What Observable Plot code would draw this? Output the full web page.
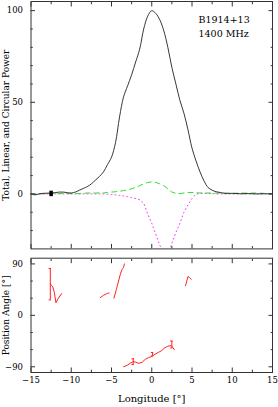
<!DOCTYPE html>
<html><head><meta charset="utf-8">
<script src="https://cdn.jsdelivr.net/npm/d3@7"></script>
<script src="https://cdn.jsdelivr.net/npm/@observablehq/plot@0.6"></script>
<style>
body{margin:0;background:#fff;}
#chart svg{display:block;}
</style></head><body><div id="chart"></div>
<script>
// ---- Data ----
const pulsarName = "B1914+13";
const frequencyLabel = "1400 MHz";
const powerLabel = "Total, Linear, and Circular Power";
const paLabel = "Position Angle [°]";
const xLabel = "Longitude [°]";

const profLon = [-15,-14.5,-14,-13.5,-13,-12.5,-12,-11.5,-11,-10.5,-10,-9.5,-9,-8.5,-8,-7.5,-7,-6.5,-6,-5.5,-5,-4.5,-4,-3.5,-3,-2.5,-2,-1.5,-1,-0.5,0,0.5,1,1.5,2,2.5,3,3.5,4,4.5,5,5.5,6,6.5,7,7.5,8,8.5,9,10,11,12,13,14,15];
const totalI = [0,-0.5,0,0.3,0.4,0.5,0.7,1,1,0.7,0.5,1,2,3,4,5.5,7.5,9.5,12,16,20,28,42,53,59,65,72,79,90,97,100,98.5,95,89,80,69,60,51,44,35,25,18,12,7,3.5,2,1.2,0.8,0.4,0.3,0.1,0.2,0,0.1,0];
const linearL = [0,0,0,0.2,0,0.3,0,0.2,0.3,0.2,0.2,0.3,0.2,0.4,0.5,0.5,0.5,0.6,0.5,0.8,1,1.2,1.5,1.8,2.2,2.8,3.5,4.5,5.5,6.2,6.6,6.3,5.5,4.5,2.8,1,0.3,0.2,0.5,0.8,0.8,0.6,0.5,0.5,0.5,0.4,0.5,0.5,0.3,0.3,0.5,0.4,0.5,0.3,0];
const circularV = [0,0,0,0,0,0,0,0,0,0,0,0,0,0,0,0,0,0,0,-0.2,-0.3,-0.5,-0.8,-1.1,-1.5,-2,-2.5,-3.2,-5,-11,-16,-22,-28,-33,-34,-27,-21,-16,-10,-6,-2.5,0,0.3,0.3,0.3,0.2,0,0,0,0,0,0,0,0,0];

const noiseLon = [-12.5];
const noiseSigma = [1.5];

const paSeg = [1,1,1,1,1,1, 2,2,2,2, 3,3,3,3,3,3,3, 4,4,4,4,4,4,4,4,4,4,4,4,4,4,4,4,4,4, 5,5,5,5,5];
const paLon = [-12.6,-12.3,-12.1,-11.9,-11.6,-11.2, -6.4,-6.0,-5.5,-5.3, -4.7,-4.4,-4.2,-3.9,-3.7,-3.5,-3.4,
  -3.5,-3.0,-2.6,-2.3,-2.0,-1.6,-1.2,-0.8,-0.4,0,0.4,0.8,1.2,1.6,2.0,2.4,2.6,2.8, 4.2,4.35,4.5,4.7,4.9];
const paVal = [55,50,40,22,30,38, 31,35,38.5,39, 30,45,56,72,80,84,90,
  -90,-87,-83,-81,-82,-84,-82,-77,-74,-72,-68,-65,-62,-57,-54,-53,-56,-60, 52,60,68,66,63];

const errLon = [-12.6,-2.3,0.1,2.5];
const errLo = [27,-86,-71,-57];
const errHi = [82,-76,-65,-45];

const xMajor = [-15,-10,-5,0,5,10,15];
const xMinor = [-12.5,-7.5,-2.5,2.5,7.5,12.5];
const powMajor = [0,50,100];
const powMinor = [-20,-10,10,20,30,40,60,70,80,90];
const paMajor = [-90,0,90];
const paMinor = [-60,-30,30,60];

// ---- Tables ----
const profile = profLon.map((x,i)=>({x, I: totalI[i], L: linearL[i], V: circularV[i]}));
const pa = paLon.map((x,i)=>({x, y: paVal[i], seg: paSeg[i]}));
const errs = errLon.map((x,i)=>({x, lo: errLo[i], hi: errHi[i]}));
const noise = noiseLon.map((x,i)=>({x, s: noiseSigma[i]}));

const font = "'DejaVu Serif', serif";
const frameColor = "#333";
const MAJ = 4.5, MIN = 2.3;
const LABEL_SIZE = 9.5, YLABEL_SIZE = 9, XLABEL_SIZE = 10, TICK_SIZE = 8.5;

function boxTicks(xMaj, xMin, yMaj, yMin) {
  const m = [];
  for (const [vals, s] of [[xMaj, MAJ], [xMin, MIN]]) {
    m.push(Plot.axisX({anchor:"bottom", ticks: vals, tickSize: s, dy: -s, text: null, label: null, stroke: frameColor}));
    m.push(Plot.axisX({anchor:"top", ticks: vals, tickSize: s, dy: s, text: null, label: null, stroke: frameColor}));
  }
  for (const [vals, s] of [[yMaj, MAJ], [yMin, MIN]]) {
    m.push(Plot.axisY({anchor:"left", ticks: vals, tickSize: s, dx: s, text: null, label: null, stroke: frameColor}));
    m.push(Plot.axisY({anchor:"right", ticks: vals, tickSize: s, dx: -s, text: null, label: null, stroke: frameColor}));
  }
  return m;
}

const topPlot = Plot.plot({
  width: 278, height: 250,
  marginLeft: 30.5, marginRight: 6, marginTop: 1, marginBottom: 1.6,
  x: {domain: [-15, 15]},
  y: {domain: [-30, 105]},
  style: {fontFamily: font, fontSize: "8px", background: "white", color: "black"},
  marks: [
    Plot.line(profile, {x: "x", y: "V", stroke: "#f03cf0", strokeWidth: 1, strokeDasharray: "1,3", clip: true}),
    Plot.line(profile, {x: "x", y: "L", stroke: "#2ee02e", strokeWidth: 1, strokeDasharray: "5,4", clip: true}),
    Plot.line(profile, {x: "x", y: "I", stroke: "#222", strokeWidth: 0.9, curve: "catmull-rom", clip: true}),
    Plot.ruleX(noise, {x: "x", y1: d => -d.s, y2: d => d.s, stroke: "black", strokeWidth: 3.5}),
    ...boxTicks(xMajor, xMinor, powMajor, powMinor),
    Plot.axisY({anchor: "left", ticks: powMajor, tickSize: 0, tickPadding: 8, label: null, fontSize: TICK_SIZE}),
    Plot.frame({stroke: frameColor}),
    Plot.text([powerLabel], {text: d => d, frameAnchor: "left", textAnchor: "middle", lineAnchor: "middle", rotate: -90, dx: -24.5, fontSize: YLABEL_SIZE}),
    Plot.text([pulsarName], {text: d => d, frameAnchor: "top-right", textAnchor: "start", lineAnchor: "bottom", dx: -74, dy: 21, fontSize: LABEL_SIZE}),
    Plot.text([frequencyLabel], {text: d => d, frameAnchor: "top-right", textAnchor: "start", lineAnchor: "bottom", dx: -74, dy: 35, fontSize: LABEL_SIZE})
  ]
});

const botPlot = Plot.plot({
  width: 278, height: 157,
  marginLeft: 30.5, marginRight: 6, marginTop: 7.7, marginBottom: 35,
  x: {domain: [-15, 15]},
  y: {domain: [-100, 100]},
  style: {fontFamily: font, fontSize: "8px", background: "white", color: "black"},
  marks: [
    Plot.line(pa, {x: "x", y: "y", z: "seg", stroke: "#f22", strokeWidth: 1}),
    Plot.ruleX(errs, {x: "x", y1: "lo", y2: "hi", stroke: "#f22", strokeWidth: 1}),
    Plot.ruleY(errs, {y: "lo", x1: d => d.x - 0.15, x2: d => d.x + 0.15, stroke: "#f22"}),
    Plot.ruleY(errs, {y: "hi", x1: d => d.x - 0.15, x2: d => d.x + 0.15, stroke: "#f22"}),
    ...boxTicks(xMajor, xMinor, paMajor, paMinor),
    Plot.axisY({anchor: "left", ticks: paMajor, tickSize: 0, tickPadding: 8, label: null, fontSize: TICK_SIZE}),
    Plot.axisX({anchor: "bottom", ticks: xMajor, tickSize: 0, tickPadding: 4.5, label: null, fontSize: TICK_SIZE}),
    Plot.frame({stroke: frameColor}),
    Plot.text([paLabel], {text: d => d, frameAnchor: "left", textAnchor: "middle", lineAnchor: "middle", rotate: -90, dx: -24.5, fontSize: YLABEL_SIZE}),
    Plot.text([xLabel], {text: d => d, frameAnchor: "bottom", dy: 29.5, fontSize: XLABEL_SIZE})
  ]
});

const c = document.getElementById("chart");
c.appendChild(topPlot);
c.appendChild(botPlot);
</script>
</body></html>
